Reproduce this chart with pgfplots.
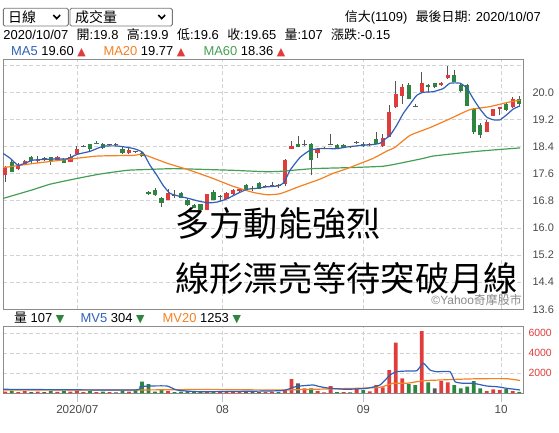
\documentclass[border=0pt]{standalone}
\usepackage{pgfplots}
\pgfplotsset{compat=1.18}
\usepackage{pgfplotstable}
\usepackage{fontspec}
\setmainfont{Liberation Sans}
\newfontfamily\cjk{Noto Sans CJK TC}
\newfontfamily\sym{DejaVu Sans}
\newcommand\fs[1]{\fontsize{#1}{#1}\selectfont}
\definecolor{upred}{HTML}{E03C3C}
\definecolor{dngreen}{HTML}{2E8540}
\definecolor{flatgray}{HTML}{5A5A5A}
\definecolor{wickc}{HTML}{555555}
\definecolor{ma5}{HTML}{3060B8}
\definecolor{ma20}{HTML}{F58020}
\definecolor{ma60}{HTML}{45A055}
\definecolor{gridc}{HTML}{D2D2D2}
\definecolor{framec}{HTML}{8C8C8C}
\definecolor{labc}{HTML}{4A4A4A}
\definecolor{tickc}{HTML}{B4C4D8}
\definecolor{boxc}{HTML}{777777}
\definecolor{yc}{HTML}{8A8A8A}
% t: 1 up body, -1 down body, 0 doji ; vc: 1 red, -1 green, 0 gray volume
\pgfplotstableread{
i o h l c t v vc
0 17.55 17.82 17.36 17.80 1 150 1
1 17.95 18.00 17.64 17.65 -1 250 -1
2 17.75 17.91 17.70 17.87 1 100 1
3 17.87 18.00 17.85 17.98 1 200 1
4 18.09 18.12 17.92 17.98 -1 80 0
5 17.98 18.12 17.92 18.04 1 150 1
6 18.04 18.09 17.98 18.04 0 100 0
7 18.09 18.10 17.87 17.98 -1 200 -1
8 18.00 18.12 17.97 18.09 1 120 1
9 18.02 18.06 17.91 17.92 -1 180 -1
10 17.95 18.17 17.94 18.09 1 150 1
11 18.17 18.43 18.16 18.34 1 250 1
12 18.41 18.44 18.39 18.41 0 100 1
13 18.47 18.49 18.27 18.34 -1 200 -1
14 18.50 18.56 18.47 18.47 -1 100 1
15 18.49 18.51 18.34 18.35 -1 150 -1
16 18.46 18.49 18.43 18.46 0 80 1
17 18.46 18.50 18.43 18.46 0 60 0
18 18.34 18.38 18.17 18.20 -1 250 -1
19 18.20 18.35 18.17 18.31 1 150 1
20 18.25 18.28 18.22 18.25 0 300 -1
21 18.21 18.26 18.10 18.12 -1 1130 -1
22 17.06 17.08 16.98 16.99 -1 900 -1
23 17.11 17.17 16.95 16.96 -1 150 -1
24 16.89 16.92 16.62 16.75 -1 300 -1
25 16.83 17.16 16.81 17.04 1 200 1
26 16.96 17.11 16.87 16.96 0 100 -1
27 17.03 17.05 16.87 16.89 -1 150 -1
28 16.83 16.84 16.64 16.67 -1 200 -1
29 16.67 16.70 16.58 16.60 -1 150 -1
30 16.70 16.72 16.52 16.53 -1 120 -1
31 16.54 17.01 16.52 16.99 1 200 1
32 17.06 17.11 16.81 16.83 -1 150 -1
33 16.92 16.98 16.80 16.92 0 100 1
34 16.86 17.07 16.84 17.04 1 150 1
35 16.99 17.14 16.98 17.11 1 100 1
36 17.08 17.18 17.07 17.16 1 120 1
37 17.26 17.29 17.14 17.16 -1 100 0
38 17.16 17.23 17.09 17.16 0 80 0
39 17.33 17.35 17.14 17.16 -1 100 0
40 17.23 17.27 17.20 17.23 0 100 1
41 17.26 17.35 17.22 17.26 0 150 1
42 17.24 17.30 17.18 17.24 0 100 -1
43 17.31 18.03 17.23 18.00 1 300 1
44 18.34 18.56 18.34 18.41 1 1400 1
45 18.49 18.71 18.38 18.39 -1 970 0
46 18.46 18.59 18.41 18.46 0 470 1
47 18.49 18.51 17.55 18.00 -1 470 -1
48 18.20 18.35 18.07 18.32 1 200 1
49 18.35 18.38 18.32 18.35 0 70 1
50 18.46 18.77 18.44 18.46 0 700 1
51 18.46 18.47 18.32 18.34 -1 100 -1
52 18.46 18.49 18.35 18.37 -1 100 1
53 18.39 18.43 18.37 18.39 0 70 0
54 18.51 18.56 18.47 18.51 0 470 1
55 18.49 18.54 18.38 18.41 -1 300 -1
56 18.46 18.51 18.41 18.46 0 170 1
57 18.61 18.83 18.47 18.49 -1 800 1
58 18.41 18.77 18.38 18.64 1 570 1
59 18.69 19.62 18.68 19.41 1 2300 1
60 19.57 20.34 19.54 19.95 1 5030 1
61 19.90 20.25 19.67 20.15 1 1470 1
62 20.22 20.27 19.80 19.80 -1 900 -1
63 19.57 19.65 19.56 19.57 0 800 -1
64 20.00 20.61 19.99 20.27 1 6200 1
65 20.22 20.25 20.00 20.15 -1 1070 -1
66 20.27 20.28 20.13 20.15 -1 470 0
67 20.21 20.30 20.19 20.28 1 1200 1
68 20.41 20.78 20.39 20.51 1 1070 1
69 20.51 20.66 20.30 20.31 -1 800 -1
70 20.22 20.25 20.01 20.05 -1 470 -1
71 20.22 20.25 19.59 19.60 -1 630 -1
72 19.50 19.54 18.77 18.82 -1 1200 -1
73 19.05 19.09 18.66 18.74 -1 470 -1
74 18.83 19.18 18.82 19.13 1 200 1
75 19.31 19.52 19.30 19.50 1 370 1
76 19.50 19.58 19.33 19.56 1 300 1
77 19.65 19.68 19.45 19.48 -1 400 -1
78 19.56 19.85 19.54 19.80 1 200 1
79 19.80 19.90 19.60 19.65 -1 107 -1
}\kd
\begin{document}
\begin{tikzpicture}[x=1bp,y=1bp]
\fill[white] (0,0) rectangle (559,432);
\useasboundingbox (0,0) rectangle (559,432);
% ---------------- price panel
\begin{axis}[
  at={(3bp,122.7bp)}, anchor=south west, scale only axis,
  width=520bp, height=250.3bp,
  xmin=-0.354, xmax=79.57, ymin=13.6, ymax=20.984,
  axis line style={draw=framec, line width=0.8bp},
  xtick={11.07,33.38,55.03,76.19}, xticklabels={,,,},
  ytick={13.6,14.4,15.2,16.0,16.8,17.6,18.4,19.2,20.0,20.8},
  yticklabels={13.6,14.4,15.2,16.0,16.8,17.6,18.4,19.2,20.0,{}},
  yticklabel pos=right,
  major tick length=0pt,
  xmajorgrids, ymajorgrids,
  grid style={draw=gridc, line width=0.8bp, dash pattern=on 4bp off 2.5bp},
  /pgf/number format/assume math mode=true,
  yticklabel style={font=\fs{11}, text=labc, anchor=west, xshift=6bp},
]
% wicks
\addplot[only marks, mark size=0pt, mark options={draw=none, fill=none}, forget plot,
  error bars/.cd, y dir=plus, y explicit, error mark=none,
  error bar style={line width=0.9bp, draw=wickc}]
  table[x=i, y=l, y error expr={\thisrow{h}-\thisrow{l}}] {\kd};
% up bodies
\addplot[only marks, mark size=0pt, mark options={draw=none, fill=none}, forget plot,
  restrict expr to domain={\thisrow{t}}{0.5:1.5},
  error bars/.cd, y dir=plus, y explicit, error mark=none,
  error bar style={line width=4.3bp, draw=upred}]
  table[x=i, y expr={min(\thisrow{o},\thisrow{c})}, y error expr={abs(\thisrow{c}-\thisrow{o})}] {\kd};
% down bodies
\addplot[only marks, mark size=0pt, mark options={draw=none, fill=none}, forget plot,
  restrict expr to domain={\thisrow{t}}{-1.5:-0.5},
  error bars/.cd, y dir=plus, y explicit, error mark=none,
  error bar style={line width=4.3bp, draw=dngreen}]
  table[x=i, y expr={min(\thisrow{o},\thisrow{c})}, y error expr={abs(\thisrow{c}-\thisrow{o})}] {\kd};
% doji
\addplot[only marks, mark=-, mark size=2.4bp, mark options={line width=1.1bp, draw=flatgray},
  restrict expr to domain={\thisrow{t}}{-0.5:0.5}]
  table[x=i, y=c] {\kd};
% MA60
\addplot[ma60, line width=1.2bp, smooth, tension=0.3] coordinates {
(-0.35,16.87) (4.26,17.13) (6.87,17.29) (11.02,17.46) (14.56,17.59) (18.71,17.70)
(21.16,17.72) (25.78,17.75) (29.93,17.73) (35.00,17.70) (39.92,17.66) (42.22,17.67)
(47.30,17.75) (52.98,17.78) (58.06,17.82) (60.67,17.91) (64.20,18.05) (65.74,18.12)
(69.43,18.20) (71.89,18.25) (75.58,18.31) (79.11,18.36)};
% MA20
\addplot[ma20, line width=1.2bp, smooth, tension=0.3] coordinates {
(-0.35,17.78) (4.26,17.90) (9.48,18.02) (14.09,18.12) (19.63,18.14) (21.16,18.17)
(24.85,17.91) (28.39,17.70) (31.92,17.46) (34.99,17.23) (38.07,17.05) (40.22,16.98)
(42.22,17.01) (45.30,17.23) (48.37,17.44) (50.37,17.61) (52.52,17.75) (54.52,17.90)
(56.51,18.05) (58.67,18.27) (59.90,18.38) (62.20,18.73) (65.27,18.96) (68.35,19.22)
(71.42,19.49) (74.49,19.58) (77.56,19.72) (79.11,19.77)};
% MA5
\addplot[ma5, line width=1.2bp, smooth, tension=0.3] coordinates {
(-0.35,18.20) (0.72,18.06) (1.95,17.85) (3.03,17.91) (4.26,18.00) (6.87,18.03)
(9.48,18.04) (11.02,18.17) (13.02,18.26) (15.02,18.41) (17.02,18.42) (19.01,18.37)
(20.09,18.32) (21.16,18.22) (22.24,17.85) (23.31,17.55) (24.24,17.26) (25.32,17.02)
(26.85,16.93) (28.39,16.86) (29.93,16.78) (31.46,16.74) (32.69,16.77) (34.08,16.86)
(35.61,17.01) (37.15,17.14) (38.69,17.17) (40.07,17.21) (41.91,17.24) (42.84,17.34)
(43.76,17.70) (45.30,18.08) (46.83,18.29) (48.37,18.34) (50.98,18.34) (52.52,18.39)
(54.98,18.44) (56.51,18.46) (57.59,18.50) (58.36,18.62) (59.13,18.73) (60.16,19.03)
(61.17,19.38) (62.20,19.65) (63.23,19.91) (64.20,20.00) (65.74,20.02) (67.28,20.11)
(68.35,20.27) (69.89,20.27) (70.97,20.12) (71.89,19.82) (72.96,19.51) (73.99,19.27)
(75.01,19.19) (76.04,19.19) (77.07,19.34) (78.08,19.51) (79.11,19.60)};
\end{axis}
% ---------------- volume panel
\begin{axis}[
  at={(3bp,39bp)}, anchor=south west, scale only axis,
  width=520bp, height=67bp,
  xmin=-0.354, xmax=79.57, ymin=0, ymax=6700,
  axis line style={draw=framec, line width=0.8bp},
  xtick={11.07,33.38,55.03,76.19}, xticklabels={2020/07,08,09,10},
  xtick pos=lower, xtick align=outside, major tick length=9bp,
  xtick style={draw=tickc, line width=1bp},
  ytick={2000,4000,6000}, yticklabels={2000,4000,6000},
  yticklabel pos=right, ytick style={draw=none},
  xmajorgrids, ymajorgrids,
  grid style={draw=gridc, line width=0.8bp, dash pattern=on 4bp off 2.5bp},
  /pgf/number format/assume math mode=true,
  yticklabel style={font=\fs{10.5}, text=upred, anchor=west, xshift=2bp},
  xticklabel style={font=\fs{11.7}, text=labc},
]
\addplot[ybar, bar width=3.8bp, bar shift=0pt, fill=upred, draw=none,
  restrict expr to domain={\thisrow{vc}}{0.5:1.5}]
  table[x=i, y=v] {\kd};
\addplot[ybar, bar width=3.8bp, bar shift=0pt, fill=dngreen, draw=none,
  restrict expr to domain={\thisrow{vc}}{-1.5:-0.5}]
  table[x=i, y=v] {\kd};
\addplot[ybar, bar width=3.8bp, bar shift=0pt, fill=flatgray, draw=none,
  restrict expr to domain={\thisrow{vc}}{-0.5:0.5}]
  table[x=i, y=v] {\kd};
% MV20
\addplot[ma20, line width=1.2bp, smooth, tension=0.3] coordinates {
(-0.35,300) (19.63,300) (29.93,350) (42.22,300) (47.30,370) (54.01,470) (57.59,570)
(59.59,970) (61.70,970) (64.25,1230) (66.81,1300) (69.38,1370) (72.96,1430)
(77.07,1430) (79.11,1253)};
% MV5
\addplot[ma5, line width=1.2bp, smooth, tension=0.3] coordinates {
(-0.35,370) (19.63,300) (20.70,630) (22.24,700) (24.85,700) (26.39,300) (29.93,130)
(42.22,230) (44.22,570) (45.30,700) (47.30,800) (48.37,630) (49.91,470) (52.48,370)
(55.55,470) (57.59,800) (59.13,1800) (60.16,2130) (61.70,2200) (63.23,2230)
(64.25,2970) (65.28,2300) (66.31,2130) (68.35,2130) (69.12,1130) (70.40,970)
(71.93,970) (73.99,700) (75.53,630) (77.07,470) (79.11,304)};
\end{axis}
% ---------------- header
\draw[boxc, line width=0.9bp, rounded corners=1.5bp] (3.3,423.7) rectangle (68.3,406);
\draw[boxc, line width=0.9bp, rounded corners=1.5bp] (70,423.7) rectangle (172.3,406);
\node[anchor=base west, inner sep=0] at (8,409.7) {\cjk\fs{14}日線};
\node[anchor=base west, inner sep=0] at (75,409.7) {\cjk\fs{14}成交量};
\draw[black, line width=1.6bp] (53.3,417) -- (56.7,413.4) -- (60.1,417);
\draw[black, line width=1.6bp] (158.3,417) -- (161.7,413.4) -- (165.1,417);
\node[anchor=base east, inner sep=0] at (541,410.4) {\fs{13}{\cjk 信大}(1109)\hspace{0.65em}{\cjk 最後日期}: 2020/10/07};
\node[anchor=base west, inner sep=0] at (3.3,392.3) {\fs{13}2020/10/07\hspace{0.65em}{\cjk 開}:19.8\hspace{0.65em}{\cjk 高}:19.9\hspace{0.65em}{\cjk 低}:19.6\hspace{0.65em}{\cjk 收}:19.65\hspace{0.65em}{\cjk 量}:107\hspace{0.65em}{\cjk 漲跌}:-0.15};
\node[anchor=base west, inner sep=0] at (11,376.4) {\fs{13}\textcolor{ma5}{MA5} 19.60 \textcolor{upred}{\sym\fs{11}▲}};
\node[anchor=base west, inner sep=0] at (103.3,376.4) {\fs{13}\textcolor{ma20}{MA20} 19.77 \textcolor{upred}{\sym\fs{11}▲}};
\node[anchor=base west, inner sep=0] at (203.3,376.4) {\fs{13}\textcolor{ma60}{MA60} 18.36 \textcolor{upred}{\sym\fs{11}▲}};
% volume legend
\node[anchor=base west, inner sep=0] at (14,109.5) {\fs{13}{\cjk 量} 107 \textcolor{dngreen}{\sym\fs{11}▼}};
\node[anchor=base west, inner sep=0] at (80.5,109.5) {\fs{13}\textcolor{ma5}{MV5} 304 \textcolor{dngreen}{\sym\fs{11}▼}};
\node[anchor=base west, inner sep=0] at (162.5,109.5) {\fs{13}\textcolor{ma20}{MV20} 1253 \textcolor{dngreen}{\sym\fs{11}▼}};
% annotations
\node[anchor=base west, inner sep=0] at (175,195.5) {\cjk\fs{34.4}多方動能強烈};
\node[anchor=base west, inner sep=0] at (175,141) {\cjk\fs{34.4}線形漂亮等待突破月線};
\node[anchor=base east, inner sep=0, text=yc] at (522,127.5) {\fs{12}©Yahoo{\cjk 奇摩股市}};
\end{tikzpicture}
\end{document}
